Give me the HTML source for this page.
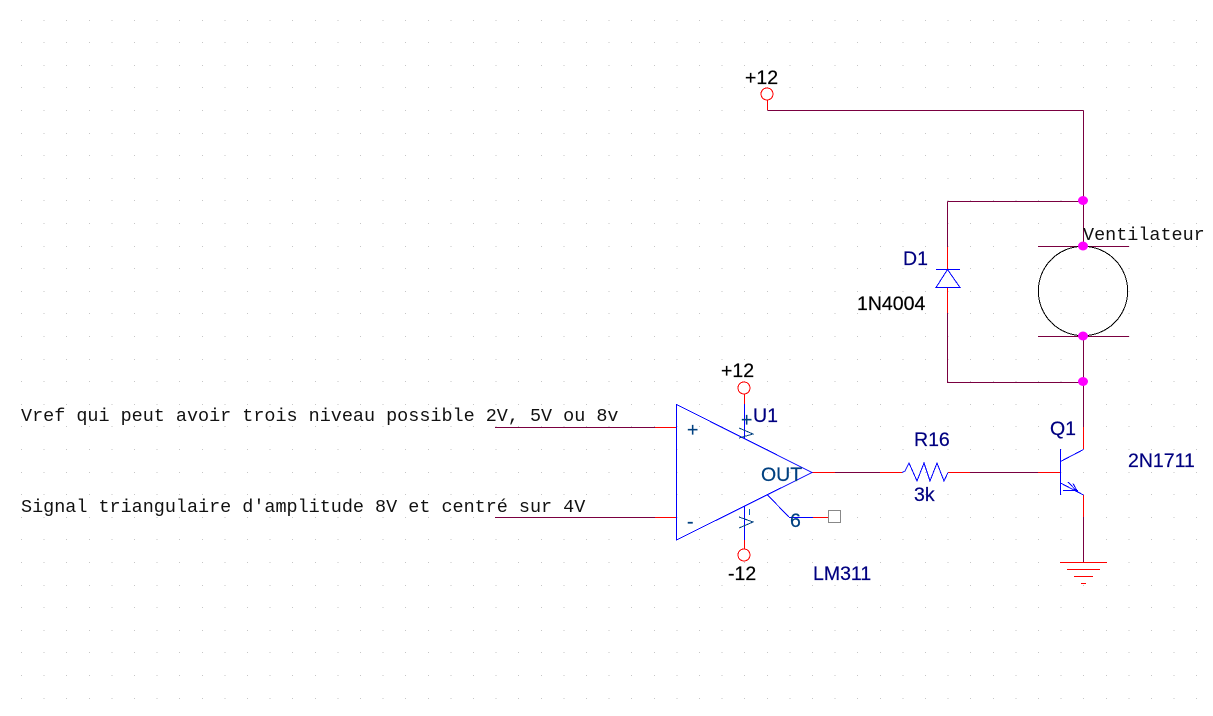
<!DOCTYPE html>
<html>
<head>
<meta charset="utf-8">
<style>
html,body{margin:0;padding:0;background:#fff;width:1213px;height:716px;overflow:hidden}
svg{display:block}
text{font-family:"Liberation Sans",sans-serif;font-size:19.5px;stroke-width:.2px}
.m{font-family:"Liberation Mono",monospace;font-size:18.45px;fill:#111;stroke:none}
.n{fill:#000080;stroke:#000080}.k{fill:#000;stroke:#000}.b{fill:#004080;stroke:#004080}
.w{stroke:#7a0040;fill:none;stroke-width:1;shape-rendering:crispEdges}
.r{stroke:#ff0000;fill:none;stroke-width:1;shape-rendering:crispEdges}
.u{stroke:#0000ff;fill:none;stroke-width:1;shape-rendering:crispEdges}
.c{stroke:#0000ff;fill:none;stroke-width:1;shape-rendering:crispEdges}
.j{fill:#ff00ff}
</style>
</head>
<body>
<svg width="1213" height="716" viewBox="0 0 1213 716" xmlns="http://www.w3.org/2000/svg">
<!-- grid -->
<path fill="none" stroke="#c6c6c6" stroke-width="1" stroke-dasharray="1 21.6" shape-rendering="crispEdges" d="M21 20.5H1198M21 42.5H1198M21 65.5H1198M21 87.5H1198M21 110.5H1198M21 133.5H1198M21 155.5H1198M21 178.5H1198M21 200.5H1198M21 223.5H1198M21 246.5H1198M21 268.5H1198M21 291.5H1198M21 313.5H1198M21 336.5H1198M21 359.5H1198M21 381.5H1198M21 404.5H1198M21 426.5H1198M21 449.5H1198M21 472.5H1198M21 494.5H1198M21 517.5H1198M21 539.5H1198M21 562.5H1198M21 585.5H1198M21 607.5H1198M21 630.5H1198M21 652.5H1198M21 675.5H1198M21 698.5H1198"/>

<!-- purple wires -->
<path class="w" d="M767.5 110.5H1083.5M1083.5 110.5V246M1083.5 336V427M947.5 201.5H1083.5M947.5 201.5V247M947.5 313V382.5H1083.5M1038 246.5H1129M1038 336.5H1129M495 427.5H655M495 517.5H655M835 472.5H880M970 472.5H1038M1083.5 517V562"/>
<!-- red wires -->
<path class="r" d="M767.5 100V110M947.5 247V269M947.5 288V313M655 427.5H676M655 517.5H676M744.5 394V404M744.5 540V549M812 472.5H835M880 472.5H902M948 472.5H970M1038 472.5H1060M813 517.5H829M1083.5 427V449M1083.5 495V517M1060 562.5H1107M1067 569.5H1100M1074 576.5H1093M1081 583.5H1086"/>

<!-- pin circles -->
<circle cx="767" cy="94" r="6" fill="#fff" stroke="#ff0000" stroke-width="1" shape-rendering="crispEdges"/>
<circle cx="744" cy="388" r="6" fill="#fff" stroke="#ff0000" stroke-width="1" shape-rendering="crispEdges"/>
<circle cx="744" cy="555" r="6" fill="#fff" stroke="#ff0000" stroke-width="1" shape-rendering="crispEdges"/>

<!-- opamp -->
<path class="u" d="M676.5 404.5V540L812 472.5Z"/>
<path class="c" d="M744.5 404V438M744.5 506V540M789 517.5H813"/>
<path d="M767.5 495L789 517" stroke="#0000ff" stroke-width="1" fill="none" shape-rendering="crispEdges"/>
<path d="M739 428L753 434L739 438" fill="none" stroke="#004080" stroke-width="1" shape-rendering="crispEdges"/>
<path d="M739 517L753 522L739 528" fill="none" stroke="#004080" stroke-width="1" shape-rendering="crispEdges"/>
<path d="M749.5 509V515" stroke="#0060c0" stroke-width="1" shape-rendering="crispEdges"/>
<rect x="828.5" y="510.5" width="12" height="12" fill="#fff" stroke="#888" stroke-width="1" shape-rendering="crispEdges"/>

<!-- resistor -->
<path class="u" d="M902 472.5L905 471L909 463L917 481L924 463L930 481L937 463L944 481L948 472.5"/>

<!-- transistor -->
<path class="c" d="M1060.5 449V495"/>
<path class="u" d="M1060.5 461.5L1083.5 449.5M1060.5 483L1083.5 495M1068 482L1078 492.5M1073 483.5L1078 492.5M1063 490.5H1078"/>

<!-- diode -->
<path class="c" d="M936 269.5H960"/>
<path class="u" d="M947.5 269.5L936 287.5H960Z"/>

<!-- motor -->
<circle cx="1083" cy="291" r="44.7" fill="none" stroke="#000" stroke-width="1" shape-rendering="crispEdges"/>

<!-- junctions -->
<ellipse class="j" cx="1083" cy="200.5" rx="5" ry="4.5"/>
<ellipse class="j" cx="1083" cy="246" rx="5" ry="4.5"/>
<ellipse class="j" cx="1083" cy="336" rx="5" ry="4.5"/>
<ellipse class="j" cx="1083" cy="381.5" rx="5" ry="4.5"/>

<!-- labels -->
<text class="k" x="745" y="84">+12</text>
<text class="k" x="721" y="377">+12</text>
<text class="k" x="728" y="580">-12</text>
<text class="k" x="857" y="310">1N4004</text>
<text class="n" x="903" y="265">D1</text>
<text class="n" x="753" y="422">U1</text>
<text class="b" x="741" y="426">+</text>
<text class="b" x="761" y="481">OUT</text>
<text class="b" x="790" y="527">6</text>
<text class="b" x="687" y="436">+</text>
<text class="b" x="687" y="528">-</text>
<text class="n" x="813" y="580">LM311</text>
<text class="n" x="914" y="446">R16</text>
<text class="n" x="914" y="501">3k</text>
<text class="n" x="1050" y="435">Q1</text>
<text class="n" x="1128" y="467">2N1711</text>
<text class="m" x="1083" y="240">Ventilateur</text>
<text class="m" x="21" y="421">Vref qui peut avoir trois niveau possible 2V, 5V ou 8v</text>
<text class="m" x="21" y="512">Signal triangulaire d'amplitude 8V et centré sur 4V</text>
</svg>
</body>
</html>
